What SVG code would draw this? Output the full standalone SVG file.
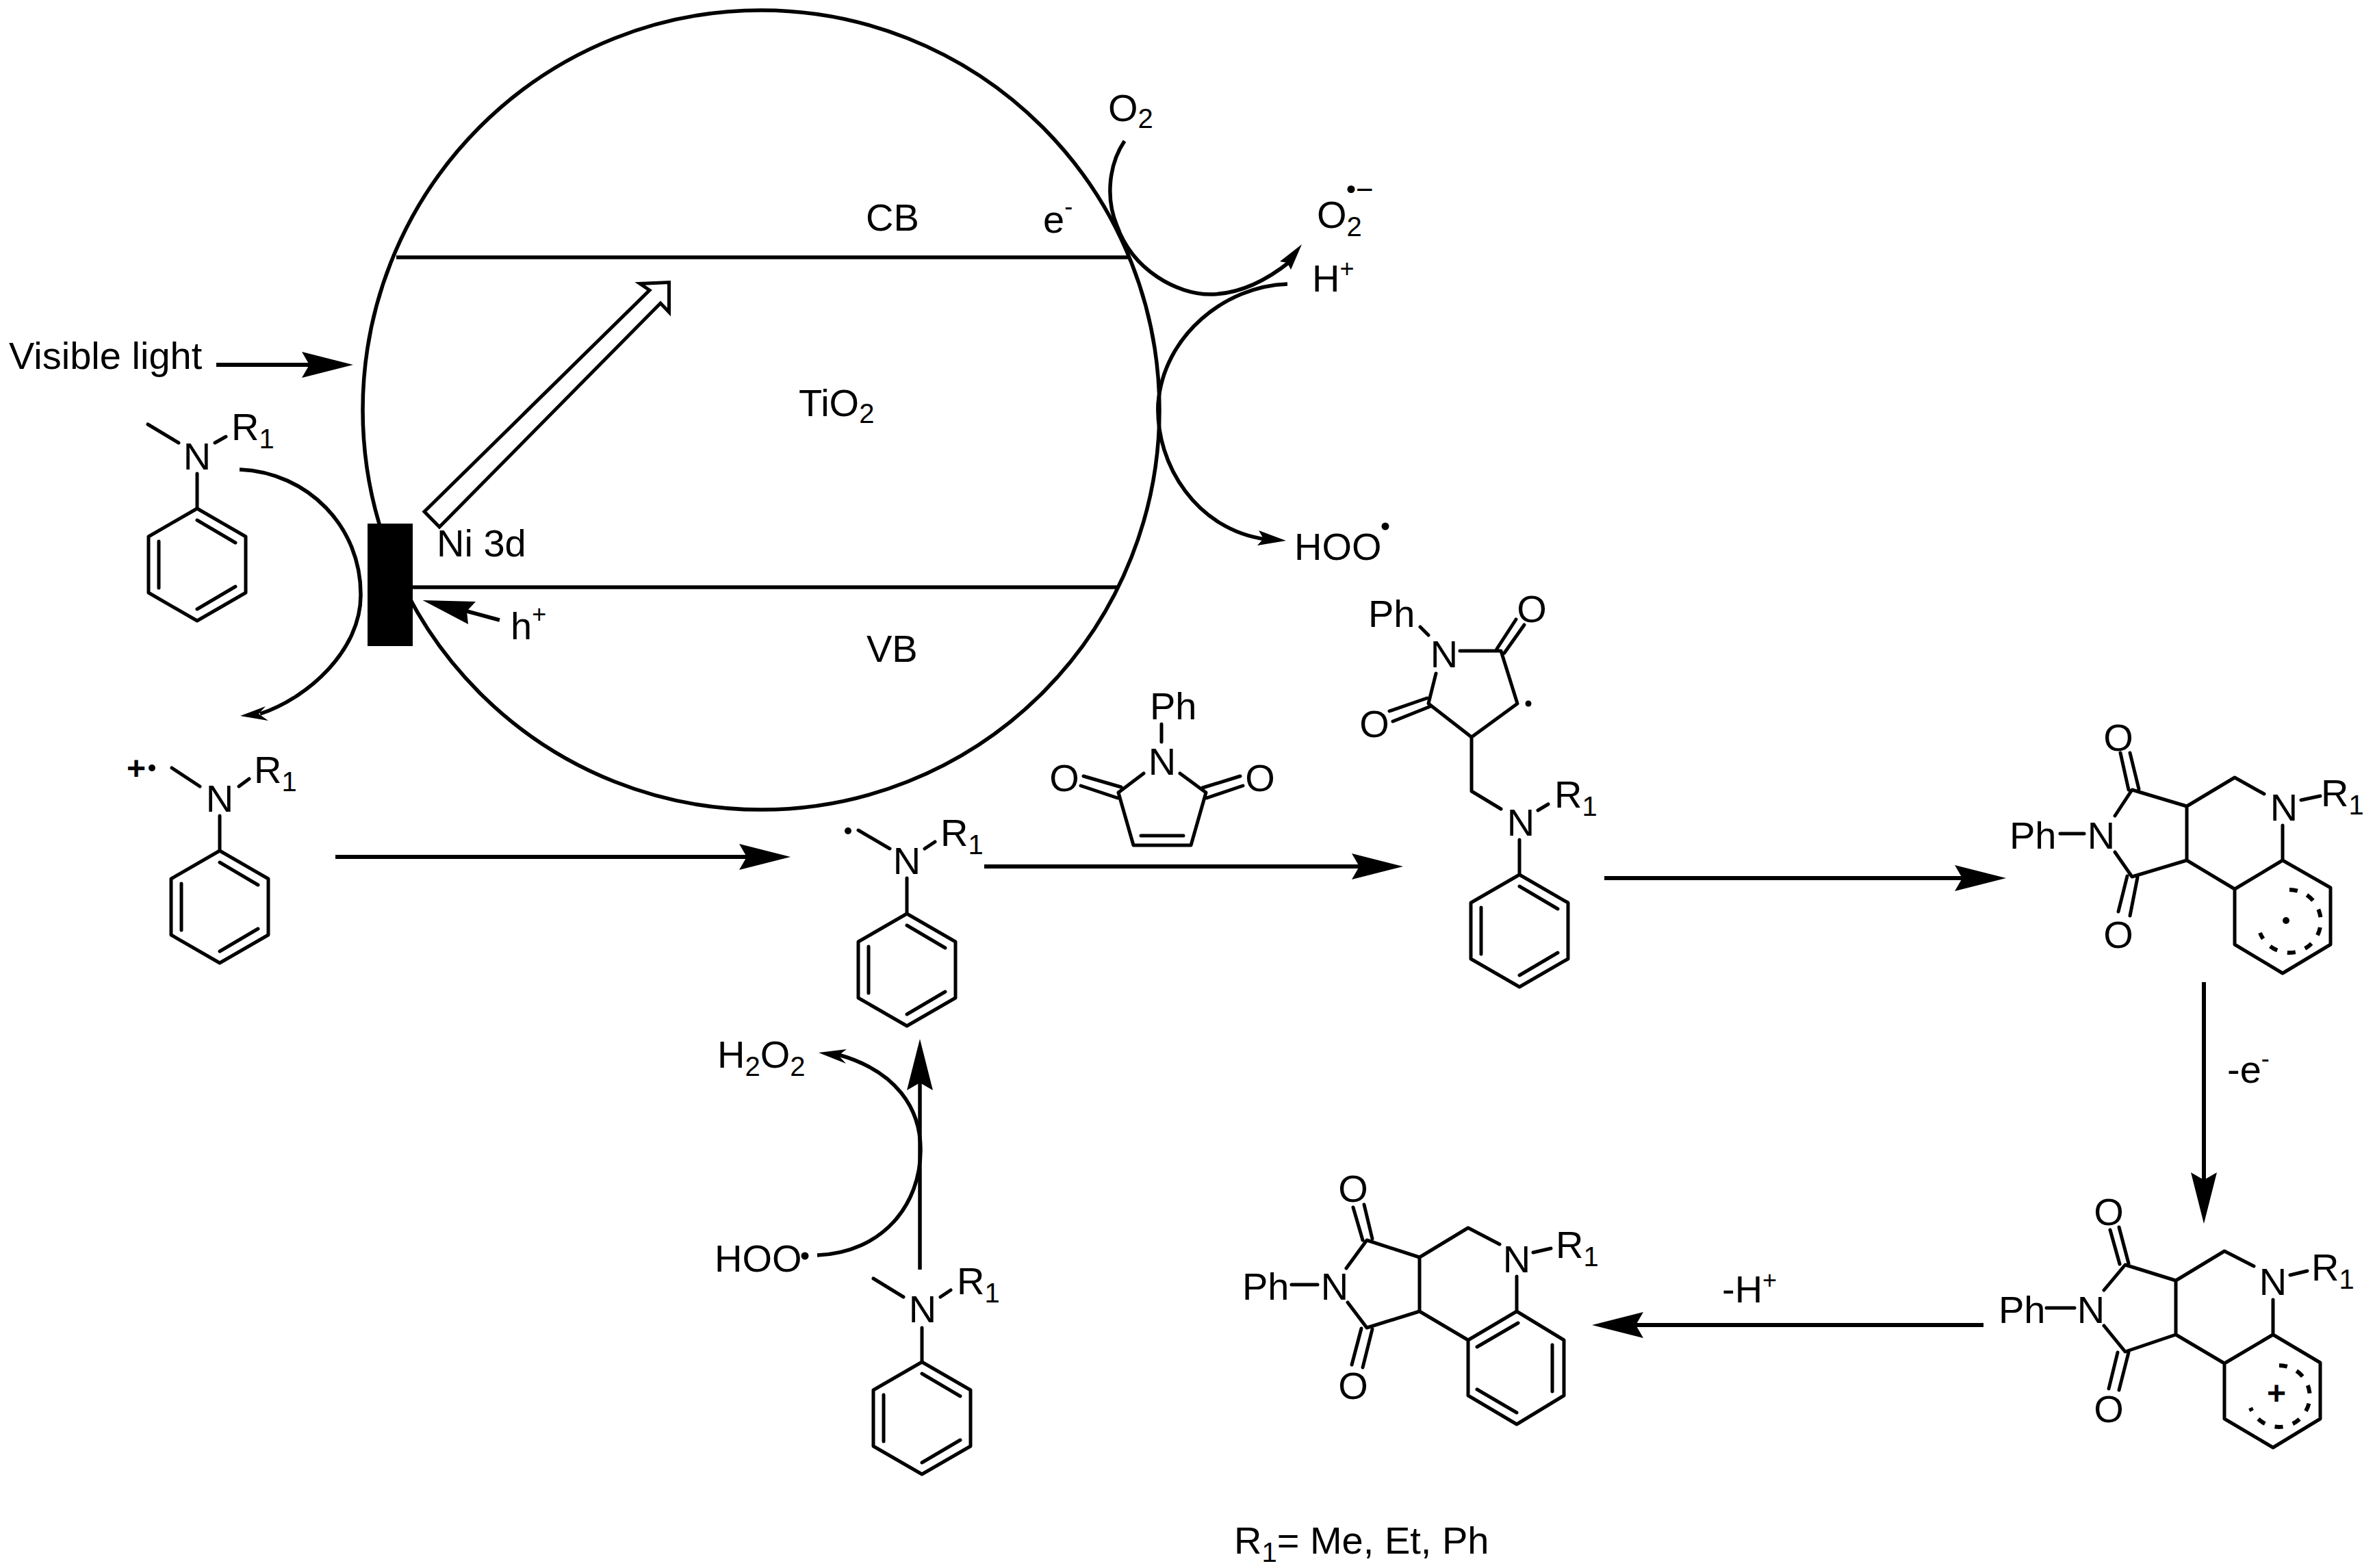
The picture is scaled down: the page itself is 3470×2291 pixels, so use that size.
<svg xmlns="http://www.w3.org/2000/svg" xmlns:xlink="http://www.w3.org/1999/xlink" width="3470" height="2291" viewBox="0 0 3470 2291">
<style>
text{font-family:"Liberation Sans",Arial,Helvetica,sans-serif;font-size:56px;fill:#000}
.m{text-anchor:middle}
.s{font-size:40px}
.u{font-size:36px}
.p{font-size:48px;font-weight:bold;text-anchor:middle}
.b{fill:none;stroke:#000;stroke-width:5;stroke-linecap:round;stroke-linejoin:round}
.c{fill:none;stroke:#000;stroke-width:5.5}
.a{fill:none;stroke:#000;stroke-width:6}
.h{fill:#000;stroke:none}
.d{fill:none;stroke:#000;stroke-width:6;stroke-dasharray:12 15}
</style>
<defs>
<g id="ph"><path class="b" d="M0,0L71,41V123L0,164L-71,123V41ZM0,17L56,50M-56,48V116M56,114L0,147"/></g>
<marker id="ah" markerUnits="userSpaceOnUse" viewBox="0 0 75 38" refX="11" refY="19" markerWidth="75" markerHeight="38" orient="auto"><path d="M0,0L75,19L0,38L11,19Z" fill="#000"/></marker>
</defs>
<rect width="3470" height="2291" fill="#fff"/>

<g id="particle">
<ellipse class="c" cx="1112" cy="599" rx="582" ry="584"/>
<path class="c" d="M579,376H1651M603,858H1635"/>
<polygon points="620,747.5 949,424 935,414.5 977.5,412.6 977.5,456 965,443 642,770" fill="#fff" stroke="#000" stroke-width="5"/>
<rect x="537" y="765" width="66" height="179" fill="#000"/>
<text x="1265" y="337">CB</text>
<text x="1167" y="608">TiO<tspan class="s" dy="10">2</tspan></text>
<text x="1266" y="967">VB</text>
<text x="638" y="813">Ni 3d</text>
<text x="1524" y="340">e<tspan class="u" dy="-26">-</tspan></text>
<text x="746" y="934">h<tspan class="u" dy="-24">+</tspan></text>
</g>
<g id="light"><text x="13" y="539">Visible light</text></g>
<g id="o2"><text x="1619" y="177">O<tspan class="s" dy="10">2</tspan></text></g>
<g id="superoxide"><text x="1924" y="333">O<tspan class="s" dy="12">2</tspan></text><circle cx="1974" cy="276.5" r="5.5"/><text x="1981" y="292" style="font-size:44px">−</text></g>
<g id="hplus"><text x="1917" y="426">H<tspan class="u" dy="-21">+</tspan></text></g>
<g id="hoo1"><text x="1891" y="818">HOO</text><circle cx="2024" cy="769" r="5.5"/></g>
<g id="h2o2"><text x="1048" y="1560">H<tspan class="s" dy="12">2</tspan><tspan dy="-12">O</tspan><tspan class="s" dy="12">2</tspan></text></g>
<g id="hoo2"><text x="1044" y="1858">HOO</text><circle cx="1176" cy="1835" r="5.5"/></g>

<g id="amine-top">
<path class="b" d="M216,620L261,647M314,647L330,638M288,692V743"/>
<use xlink:href="#ph" href="#ph" transform="translate(288,743)"/>
<text class="m" x="288" y="686">N</text>
<text x="338" y="643">R<tspan class="s" dy="12">1</tspan></text>
</g>
<g id="amine-cation">
<path class="b" d="M251,1122L292,1149M349,1149L364,1138M321,1192V1243"/>
<use xlink:href="#ph" href="#ph" transform="translate(321,1243)"/>
<text class="m" x="321" y="1186">N</text>
<text x="371" y="1144">R<tspan class="s" dy="12">1</tspan></text>
<text class="p" x="199" y="1139">+</text>
<circle cx="222" cy="1122" r="5"/>
</g>
<g id="amine-radical">
<path class="b" d="M1254,1213L1300,1240M1351,1240L1366,1230M1325,1283V1335"/>
<use xlink:href="#ph" href="#ph" transform="translate(1325,1335)"/>
<text class="m" x="1325" y="1277">N</text>
<text x="1374" y="1236">R<tspan class="s" dy="12">1</tspan></text>
<circle cx="1239" cy="1214" r="5"/>
</g>
<g id="amine-bottom">
<path class="b" d="M1276,1868L1320,1895M1374,1895L1389,1885M1347,1940V1990"/>
<use xlink:href="#ph" href="#ph" transform="translate(1347,1990)"/>
<text class="m" x="1348" y="1932">N</text>
<text x="1398" y="1891">R<tspan class="s" dy="12">1</tspan></text>
</g>

<g id="maleimide">
<path class="b" d="M1697,1058V1084M1671,1130L1634,1158L1656,1235H1740L1762,1158L1724,1130M1667,1221H1729M1583,1134L1638,1150M1579,1148L1633,1166M1812,1134L1757,1151M1816,1148L1763,1166"/>
<text x="1680" y="1051">Ph</text>
<text class="m" x="1698" y="1132">N</text>
<text class="m" x="1555" y="1156">O</text>
<text class="m" x="1841" y="1156">O</text>
</g>

<g id="adduct">
<path class="b" d="M2075,916L2087,928M2133,951H2193L2217,1028L2150,1077L2087,1028L2098,984M2187,948L2215,905M2198,954L2227,913M2030,1039L2085,1020M2035,1054L2090,1032M2150,1077V1156L2193,1182M2247,1184L2262,1175M2220,1227V1278"/>
<use xlink:href="#ph" href="#ph" transform="translate(2220,1278)"/>
<text x="1999" y="916">Ph</text>
<text class="m" x="2110" y="975">N</text>
<text class="m" x="2238" y="909">O</text>
<text class="m" x="2008" y="1077">O</text>
<circle cx="2233" cy="1028" r="4.5"/>
<text class="m" x="2222" y="1221">N</text>
<text x="2271" y="1180">R<tspan class="s" dy="12">1</tspan></text>
</g>

<g id="tricycle-radical">
<path class="b" d="M3010,1218H3045M3090,1192L3115,1154L3195,1178V1257L3115,1281L3090,1245M3098,1100L3110,1154M3112,1100L3125,1153M3095,1332L3108,1280M3112,1338L3123,1282M3195,1178L3265,1136L3308,1160M3362,1169L3390,1163M3335,1206V1257L3265,1299L3195,1257M3335,1257L3405,1297V1380L3335,1422L3265,1380V1299"/>
<path class="d" d="M3345,1300A46,46 0 1 1 3302,1363"/>
<circle cx="3340" cy="1345" r="5"/>
<text x="2936" y="1240">Ph</text>
<text class="m" x="3070" y="1240">N</text>
<text class="m" x="3095" y="1097">O</text>
<text class="m" x="3095" y="1385">O</text>
<text class="m" x="3337" y="1199">N</text>
<text x="3391" y="1178">R<tspan class="s" dy="12">1</tspan></text>
</g>

<g id="tricycle-cation">
<path class="b" d="M2990,1911H3031M3074,1885L3105,1848L3179,1871V1950L3105,1975L3074,1937M3083,1797L3097,1847M3096,1793L3110,1846M3081,2029L3094,1976M3096,2031L3110,1976M3179,1871L3250,1828L3293,1850M3346,1863L3371,1857M3321,1899V1950L3250,1992L3179,1950M3321,1950L3390,1991V2073L3321,2115L3250,2073V1992"/>
<path class="d" d="M3330,1995A45,45 0 1 1 3288,2057"/>
<text class="p" x="3326" y="2052">+</text>
<text x="2920" y="1933">Ph</text>
<text class="m" x="3055" y="1933">N</text>
<text class="m" x="3081" y="1790">O</text>
<text class="m" x="3081" y="2078">O</text>
<text class="m" x="3321" y="1892">N</text>
<text x="3377" y="1871">R<tspan class="s" dy="12">1</tspan></text>
</g>

<g id="product">
<path class="b" d="M1887,1877H1925M1967,1853L1997,1812L2074,1837V1916L1997,1940L1969,1903M1977,1764L1991,1812M1993,1760L2005,1810M1975,1994L1989,1941M1991,1998L2005,1942M2074,1837L2145,1794L2191,1818M2240,1830L2266,1824M2216,1865V1916L2145,1958L2074,1916M2216,1916L2285,1958V2039L2216,2081L2145,2039V1958M2218,1933L2158,1968M2268,1965V2033M2158,2030L2216,2064"/>
<text x="1815" y="1899">Ph</text>
<text class="m" x="1950" y="1899">N</text>
<text class="m" x="1977" y="1756">O</text>
<text class="m" x="1977" y="2044">O</text>
<text class="m" x="2216" y="1859">N</text>
<text x="2273" y="1838">R<tspan class="s" dy="12">1</tspan></text>
</g>

<g id="labels">
<text x="3254" y="1582">-e<tspan class="u" dy="-23">-</tspan></text>
<text x="2516" y="1903">-H<tspan class="u" dy="-20">+</tspan></text>
<text x="1803" y="2270">R<tspan class="s" dy="12">1</tspan><tspan dy="-12">= Me, Et, Ph</tspan></text>
</g>

<g id="connectors">
<path class="a" marker-end="url(#ah)" d="M316,533H452"/>
<path class="a" marker-end="url(#ah)" d="M490,1252H1091"/>
<path class="a" marker-end="url(#ah)" d="M1438,1266H1986"/>
<path class="a" marker-end="url(#ah)" d="M2344,1283H2867"/>
<path class="a" marker-end="url(#ah)" d="M3220,1435V1724"/>
<path class="a" marker-end="url(#ah)" d="M2898,1936H2390"/>
<path class="c" marker-end="url(#ah)" d="M1344,1855V1582"/>
<path class="c" d="M730,906L682,893"/>
<polygon class="h" points="617.5,877 695,879 682,893 684,912"/>
<path class="c" d="M1643,206C1620,240 1615,290 1632,330C1655,395 1720,430 1768,430C1810,430 1850,410 1885,382"/>
<polygon class="h" points="1902,357 1886,394 1881,384 1870,382"/>
<path class="c" d="M1881,415C1790,418 1700,490 1692,590C1688,680 1750,775 1850,788"/>
<polygon class="h" points="1879,790 1837,797 1846,787 1839,775"/>
<path class="c" d="M350,686C450,690 528,770 527,870C527,950 450,1020 380,1043"/>
<polygon class="h" points="351,1046 388,1032 378,1043 392,1053"/>
<path class="c" d="M1194,1834C1290,1830 1345,1760 1345,1680C1345,1620 1310,1565 1225,1541"/>
<polygon class="h" points="1196,1538 1237,1533 1225,1542 1236,1554"/>
</g>
</svg>
